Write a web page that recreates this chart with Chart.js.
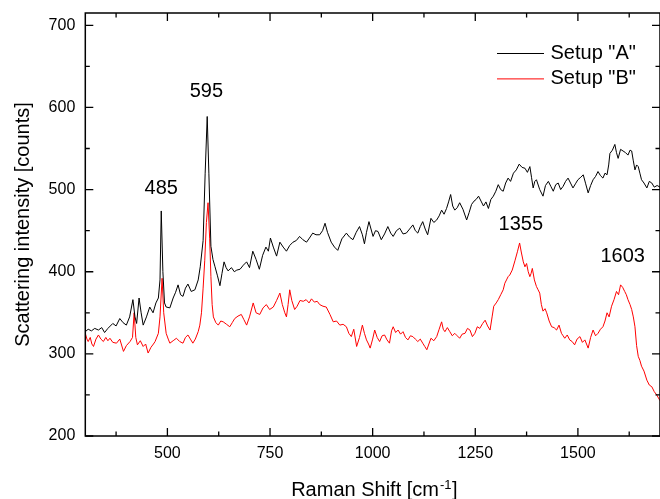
<!DOCTYPE html>
<html>
<head>
<meta charset="utf-8">
<script src="https://cdn.jsdelivr.net/npm/chart.js@4/dist/chart.umd.min.js"></script>
<style>
  html, body { margin: 0; padding: 0; background: #fff; }
  canvas { display: block; }
</style>
</head>
<body>
<canvas id="myChart" width="660" height="499"></canvas>
<script>
/* globals Chart:false */

// Raman shift (cm-1) and intensity (counts)
const shiftA = [
  300, 307, 315, 323, 332, 340, 347, 355, 367, 375, 384, 392, 400, 408, 416, 421, 425, 431, 436, 441,
  449, 457, 465, 472, 478, 482, 485, 489, 493, 497, 506, 514, 520, 526, 532, 538, 544, 550, 558, 567,
  575, 580, 587, 592, 597, 601, 606, 611, 616, 622, 628, 633, 638, 643, 648, 656, 663, 669, 677, 685,
  693, 700, 708, 716, 724, 732, 740, 746, 751, 758, 766, 774, 782, 790, 798, 806, 814, 822, 830, 839,
  846, 854, 862, 871, 878, 884, 890, 899, 907, 915, 925, 936, 944, 952, 960, 968, 975, 980, 985, 991,
  1001, 1007, 1013, 1021, 1029, 1037, 1044, 1050, 1058, 1066, 1074, 1082, 1090, 1098, 1104, 1110, 1116, 1122, 1128, 1134,
  1142, 1149, 1156, 1162, 1168, 1174, 1180, 1185, 1190, 1195, 1200, 1206, 1212, 1220, 1229, 1235, 1241, 1247, 1252, 1258,
  1264, 1270, 1276, 1282, 1288, 1294, 1300, 1306, 1312, 1318, 1324, 1330, 1336, 1343, 1350, 1357, 1364, 1371, 1377, 1383,
  1387, 1391, 1395, 1399, 1407, 1415, 1421, 1428, 1434, 1440, 1446, 1452, 1458, 1464, 1470, 1476, 1482, 1488, 1494, 1500,
  1507, 1513, 1519, 1525, 1531, 1537, 1543, 1549, 1555, 1561, 1566, 1571, 1575, 1578, 1584, 1590, 1594, 1598, 1604, 1610,
  1616, 1622, 1627, 1631, 1635, 1639, 1643, 1647, 1651, 1655, 1661, 1668, 1674, 1680, 1686, 1693, 1700
];
const countsA = [
  327, 330, 328, 331, 329, 332, 326, 331, 337, 334, 343, 338, 335, 345, 366, 345, 337, 368, 350, 335,
  345, 357, 350, 362, 368, 390, 474, 400, 362, 357, 356, 368, 375, 384, 372, 370, 380, 385, 376, 378,
  390, 406, 438, 520, 589, 520, 431, 415, 406, 395, 383, 398, 412, 405, 401, 405, 400, 402, 403, 408,
  412, 405, 425, 415, 403, 420, 430, 425, 441, 430, 419, 436, 430, 425, 432, 436, 438, 443, 439, 436,
  441, 447, 445, 445, 450, 459, 448, 436, 430, 426, 440, 447, 442, 439, 448, 455, 445, 434, 448, 461,
  443, 450, 449, 439, 446, 455, 447, 443, 450, 453, 446, 447, 452, 457, 450, 447, 455, 461, 452, 445,
  465, 460, 463, 468, 475, 470, 477, 485, 494, 480, 475, 478, 484, 476, 463, 472, 482, 486, 488, 492,
  486, 480, 485, 477, 488, 492, 498, 506, 500, 498, 508, 514, 510, 520, 524, 531, 527, 526, 521, 528,
  515, 502, 510, 512, 500, 492, 505, 510, 504, 498, 506, 508, 500, 504, 510, 514, 508, 502, 507, 512,
  515, 518, 507, 496, 505, 512, 516, 522, 517, 514, 520, 518, 530, 544, 548, 555, 545, 538, 549, 547,
  545, 542, 548, 547, 535, 524, 530, 528, 520, 512, 508, 502, 510, 508, 503, 505, 503
];

const shiftB = [
  300, 304, 307, 312, 316, 320, 326, 332, 338, 344, 350, 355, 360, 367, 376, 384, 393, 400, 409, 415,
  419, 423, 427, 434, 441, 447, 453, 460, 466, 470, 478, 482, 487, 491, 497, 502, 506, 514, 522, 530,
  538, 544, 550, 556, 562, 568, 575, 579, 583, 587, 591, 595, 599, 603, 606, 609, 612, 618, 624, 630,
  636, 644, 652, 658, 664, 672, 680, 686, 693, 700, 709, 716, 725, 733, 741, 749, 758, 766, 774, 780,
  786, 790, 794, 798, 803, 810, 816, 823, 831, 838, 845, 851, 858, 865, 871, 879, 887, 896, 904, 912,
  920, 928, 936, 942, 948, 954, 961, 968, 975, 980, 985, 990, 994, 1000, 1005, 1011, 1017, 1023, 1029, 1035,
  1041, 1046, 1050, 1056, 1062, 1068, 1074, 1080, 1086, 1092, 1098, 1104, 1110, 1116, 1122, 1127, 1132, 1137, 1142, 1149,
  1156, 1162, 1168, 1172, 1176, 1182, 1188, 1194, 1200, 1206, 1212, 1218, 1225, 1231, 1237, 1243, 1249, 1255, 1261, 1268,
  1274, 1280, 1286, 1291, 1295, 1301, 1306, 1312, 1318, 1322, 1326, 1330, 1334, 1340, 1347, 1353, 1358, 1362, 1367, 1371,
  1375, 1379, 1383, 1386, 1389, 1394, 1399, 1403, 1407, 1411, 1415, 1420, 1424, 1430, 1436, 1442, 1448, 1454, 1460, 1464,
  1468, 1474, 1480, 1486, 1492, 1498, 1505, 1511, 1517, 1521, 1525, 1531, 1537, 1543, 1549, 1555, 1561, 1566, 1571, 1576,
  1582, 1588, 1594, 1599, 1604, 1609, 1614, 1618, 1622, 1627, 1631, 1635, 1639, 1643, 1647, 1651, 1655, 1661, 1668, 1674,
  1680, 1686, 1692, 1700
];
const countsB = [
  325, 318, 315, 320, 312, 309, 318, 323, 318, 315, 320, 316, 319, 314, 313, 318, 303, 310, 315, 320,
  350, 320, 311, 316, 309, 312, 301, 308, 312, 315, 325, 345, 392, 350, 325, 318, 313, 316, 319, 315,
  313, 320, 323, 318, 313, 318, 327, 335, 350, 380, 414, 460, 484, 440, 394, 360, 345, 338, 335, 340,
  339, 336, 333, 338, 343, 346, 348, 342, 335, 345, 362, 350, 348, 356, 360, 354, 357, 365, 374, 360,
  350, 345, 360, 378, 365, 354, 358, 365, 364, 366, 362, 367, 363, 364, 360, 358, 357, 348, 339, 340,
  335, 336, 333, 325, 321, 330, 309, 320, 335, 325, 317, 312, 307, 318, 329, 320, 315, 322, 323, 317,
  313, 328, 333, 326, 329, 324, 327, 320, 317, 322, 321, 318, 315, 318, 313, 309, 305, 312, 319, 316,
  321, 330, 339, 330, 327, 332, 327, 322, 325, 322, 319, 324, 325, 331, 329, 321, 325, 333, 331, 337,
  341, 334, 329, 345, 358, 362, 366, 372, 378, 386, 390, 394, 396, 402, 414, 425, 435, 424, 412, 406,
  410, 400, 394, 398, 404, 390, 382, 378, 374, 360, 352, 355, 350, 340, 333, 332, 329, 335, 325, 322,
  319, 323, 317, 315, 311, 318, 321, 314, 317, 312, 307, 320, 329, 322, 325, 330, 333, 340, 350, 345,
  358, 366, 376, 372, 384, 381, 376, 372, 366, 360, 354, 345, 333, 310, 297, 292, 285, 279, 268, 262,
  260, 254, 250, 243
];

const seriesNames = ['Setup "A"', 'Setup "B"'];
const seriesColors = ["#000000", "#ff0000"];

// tick labels
const xMajorTicks = [500, 750, 1000, 1250, 1500];
const xMinorTicks = [375, 625, 875, 1125, 1375, 1625];
const yMajorTicks = [200, 300, 400, 500, 600, 700];
const yMinorTicks = [250, 350, 450, 550, 650];

// peak annotations: text, anchor shift, anchor counts
const peakText = ["485", "595", "1355", "1603"];
const peakShift = [485, 595, 1361, 1609];
const peakCounts = [501, 619, 457, 419];

const FONT = "'Liberation Sans', Arial, sans-serif";

const toPoints = (xs, ys) => xs.map((x, i) => ({ x, y: ys[i] }));

const decorations = {
  id: "decorations",
  afterDraw(chart) {
    const { ctx, chartArea: a, scales } = chart;
    const x = scales.x;
    const y = scales.y;
    ctx.save();

    // frame
    ctx.strokeStyle = "#000";
    ctx.lineWidth = 1.5;
    ctx.strokeRect(a.left, a.top, a.right - a.left, a.bottom - a.top);

    // inward ticks on all four sides
    ctx.lineWidth = 1.3;
    ctx.beginPath();
    const xTick = (v, len) => {
      const p = x.getPixelForValue(v);
      ctx.moveTo(p, a.bottom); ctx.lineTo(p, a.bottom - len);
      ctx.moveTo(p, a.top); ctx.lineTo(p, a.top + len);
    };
    const yTick = (v, len) => {
      const p = y.getPixelForValue(v);
      ctx.moveTo(a.left, p); ctx.lineTo(a.left + len, p);
      ctx.moveTo(a.right, p); ctx.lineTo(a.right - len, p);
    };
    xMajorTicks.forEach((v) => xTick(v, 8));
    xMinorTicks.forEach((v) => xTick(v, 4.5));
    yMajorTicks.forEach((v) => yTick(v, 8));
    yMinorTicks.forEach((v) => yTick(v, 4.5));
    ctx.stroke();

    ctx.fillStyle = "#000";

    // peak labels
    ctx.font = "20px " + FONT;
    ctx.textAlign = "center";
    ctx.textBaseline = "middle";
    peakText.forEach((t, i) => {
      ctx.fillText(t, x.getPixelForValue(peakShift[i]), y.getPixelForValue(peakCounts[i]));
    });

    // legend
    ctx.textAlign = "left";
    chart.data.datasets.forEach((ds, i) => {
      const ly = a.top + 40.5 + i * 25.4;
      ctx.strokeStyle = ds.borderColor;
      ctx.lineWidth = 1;
      ctx.beginPath();
      ctx.moveTo(497, ly);
      ctx.lineTo(544, ly);
      ctx.stroke();
      ctx.fillText(ds.label, 550.5, ly);
    });

    // y axis title
    ctx.save();
    ctx.translate(23, (a.top + a.bottom) / 2);
    ctx.rotate(-Math.PI / 2);
    ctx.textAlign = "center";
    ctx.fillText("Scattering intensity [counts]", 0, 0);
    ctx.restore();

    // x axis title with superscript
    const main = "Raman Shift [cm";
    const sup = "-1";
    const end = "]";
    ctx.textBaseline = "alphabetic";
    ctx.font = "20px " + FONT;
    const wMain = ctx.measureText(main).width;
    const wEnd = ctx.measureText(end).width;
    ctx.font = "13px " + FONT;
    const wSup = ctx.measureText(sup).width;
    let tx = (a.left + a.right) / 2 + 1 - (wMain + wSup + wEnd) / 2;
    const base = 496;
    ctx.font = "20px " + FONT;
    ctx.fillText(main, tx, base);
    tx += wMain;
    ctx.font = "13px " + FONT;
    ctx.fillText(sup, tx + 1, base - 7);
    tx += wSup + 1.5;
    ctx.font = "20px " + FONT;
    ctx.fillText(end, tx, base);

    ctx.restore();
  },
};

const ctx = document.getElementById("myChart");
// eslint-disable-next-line no-unused-vars
const myChart = new Chart(ctx, {
  type: "line",
  data: {
    datasets: [
      {
        label: seriesNames[0],
        data: toPoints(shiftA, countsA),
        borderColor: seriesColors[0],
        borderWidth: 1,
        pointRadius: 0,
        tension: 0,
        fill: false,
      },
      {
        label: seriesNames[1],
        data: toPoints(shiftB, countsB),
        borderColor: seriesColors[1],
        borderWidth: 1,
        pointRadius: 0,
        tension: 0,
        fill: false,
      },
    ],
  },
  options: {
    responsive: false,
    animation: false,
    layout: { padding: { top: 13, right: 0, left: 0, bottom: 0 } },
    plugins: {
      legend: { display: false },
      tooltip: { enabled: false },
    },
    scales: {
      x: {
        type: "linear",
        min: 300,
        max: 1700,
        grid: { display: false, drawTicks: false },
        border: { display: false },
        ticks: {
          stepSize: 250,
          includeBounds: false,
          maxRotation: 0,
          autoSkip: false,
          padding: 8,
          color: "#000",
          font: { family: FONT, size: 16 },
          callback: (v) => String(v),
        },
        afterFit(scale) {
          scale.height = 63;
          scale.paddingLeft = 0;
          scale.paddingRight = 0;
        },
      },
      y: {
        type: "linear",
        min: 200,
        max: 715,
        grid: { display: false, drawTicks: false },
        border: { display: false },
        ticks: {
          stepSize: 100,
          includeBounds: false,
          padding: 10,
          color: "#000",
          font: { family: FONT, size: 16 },
          callback: (v) => String(v),
        },
        afterFit(scale) {
          scale.width = 85.3;
          scale.paddingTop = 0;
          scale.paddingBottom = 0;
        },
      },
    },
  },
  plugins: [decorations],
});
</script>
</body>
</html>
